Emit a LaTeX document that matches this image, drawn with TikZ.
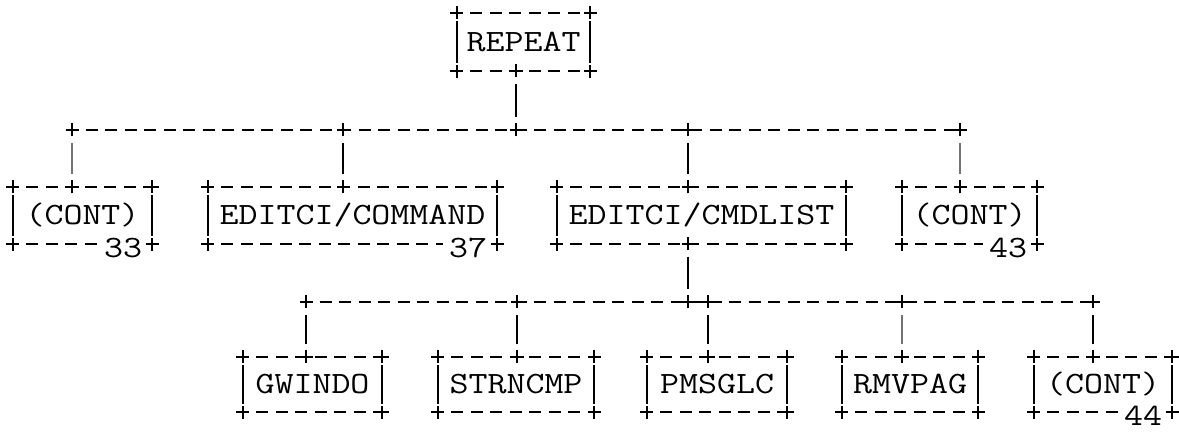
\documentclass[tikz,border=0pt]{standalone}
\usepackage{fontspec}
\usepackage{graphicx}
\usetikzlibrary{calc}
\tikzset{
  hdash/.style={line width=2.2pt, dash pattern=on 12pt off 7.5pt, dash phase=6pt},
  vside/.style={line width=1.9pt},
  vconn/.style={line width=1.9pt, shorten >=13pt, shorten <=13pt},
  faint/.style={line width=1.1pt, black!55},
  plusline/.style={line width=1.8pt},
  boxtext/.style={inner sep=0pt, font=\ttfamily\fontsize{31}{31}\selectfont, text height=19pt, text depth=0pt, align=center},
  numlab/.style={boxtext, fill=white, inner xsep=6pt}
}
\newcommand\pluscross[2][]{\draw[plusline,#1] ($(#2)+(-6.5pt,0)$) -- ($(#2)+(6.5pt,0)$) ($(#2)+(0,-6.5pt)$) -- ($(#2)+(0,6.5pt)$);}
% #1 name, #2 left, #3 right, #4 top, #5 bottom, #6 text, #7 number label
\newcommand\abox[7]{%
  \node[boxtext, minimum width={(#3)-(#2)}, minimum height={(#5)-(#4)}] (#1) at ({((#2)+(#3))/2},{((#4)+(#5))/2}) {\scalebox{1.19}[1]{#6}};
  \draw[hdash] (#1.north west) -- (#1.north east);
  \draw[hdash] (#1.south west) -- (#1.south east);
  \draw[vside] ([yshift=-8pt]#1.north west) -- ([yshift=8pt]#1.south west);
  \draw[vside] ([yshift=-8pt]#1.north east) -- ([yshift=8pt]#1.south east);
  \if\relax\detokenize{#7}\relax\else
    \node[numlab] (#1-lab) at ($(#1.south east)+(-29pt,-4pt)$) {\scalebox{1.19}[1]{#7}};
  \fi
  \pluscross{#1.north west}\pluscross{#1.north east}\pluscross{#1.south west}\pluscross{#1.south east}%
}
\begin{document}
\begin{tikzpicture}[x=1pt,y=-1pt]
\useasboundingbox (0,0) rectangle (1179,435);
% boxes
\abox{repeat}{457}{590}{13}{71}{REPEAT}{}
\abox{cont1}{13}{152}{187}{244}{(CONT)}{33}
\abox{cmd}{208}{497}{187}{244}{EDITCI/COMMAND}{37}
\abox{list}{557}{846}{187}{244}{EDITCI/CMDLIST}{}
\abox{cont2}{902}{1037}{187}{244}{(CONT)}{43}
\abox{gwindo}{243}{382}{357}{412}{GWINDO}{}
\abox{strncmp}{438}{594}{357}{412}{STRNCMP}{}
\abox{pmsglc}{647}{787}{357}{412}{PMSGLC}{}
\abox{rmvpag}{842}{978}{357}{412}{RMVPAG}{}
\abox{cont3}{1034}{1172}{357}{412}{(CONT)}{44}
% junction coordinates
\coordinate (repeat-j) at (516,71);
\coordinate (b1-cont) at (72,130);
\coordinate (b1-cmd) at (343,130);
\coordinate (b1-rep) at (516,130);
\coordinate (b1-list) at (688,130);
\coordinate (b1-cont2) at (960,130);
\coordinate (cont1-j) at (72,187);
\coordinate (cmd-j) at (343,187);
\coordinate (list-jt) at (688,187);
\coordinate (cont2-j) at (960,187);
\coordinate (list-jb) at (688,244);
\coordinate (b2-gw) at (306,302);
\coordinate (b2-st) at (517,302);
\coordinate (b2-list) at (688,302);
\coordinate (b2-pm) at (708,302);
\coordinate (b2-rm) at (902,302);
\coordinate (b2-c3) at (1093,302);
\coordinate (gw-j) at (306,357);
\coordinate (st-j) at (517,357);
\coordinate (pm-j) at (708,357);
\coordinate (rm-j) at (902,357);
\coordinate (c3-j) at (1093,357);
% buses
\draw[hdash] (b1-cont) -- (b1-cont2);
\draw[hdash] (b2-gw) -- (b2-c3);
% vertical connectors
\draw[vconn] (repeat-j) -- (b1-rep);
\draw[vconn,faint] (b1-cont) -- (cont1-j);
\draw[vconn] (b1-cmd) -- (cmd-j);
\draw[vconn] (b1-list) -- (list-jt);
\draw[vconn,faint] (b1-cont2) -- (cont2-j);
\draw[vconn] (list-jb) -- (b2-list);
\draw[vconn] (b2-gw) -- (gw-j);
\draw[vconn] (b2-st) -- (st-j);
\draw[vconn] (b2-pm) -- (pm-j);
\draw[vconn,faint] (b2-rm) -- (rm-j);
\draw[vconn] (b2-c3) -- (c3-j);
% junction pluses
\foreach \p in {repeat-j,b1-cont,b1-cmd,b1-rep,b1-list,b1-cont2,cont1-j,cmd-j,list-jt,cont2-j,list-jb,
  b2-gw,b2-st,b2-list,b2-pm,b2-rm,b2-c3,gw-j,st-j,pm-j,rm-j,c3-j}{\pluscross{\p}}
\end{tikzpicture}
\end{document}
